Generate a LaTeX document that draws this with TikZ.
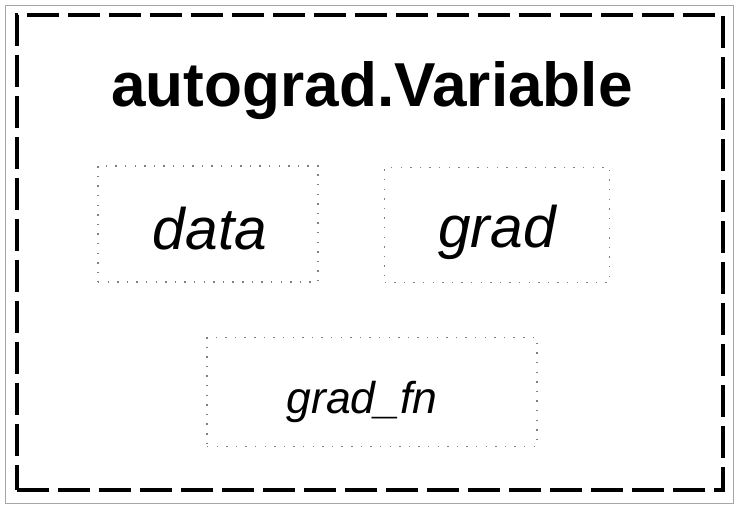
\documentclass[tikz,border=0pt]{standalone}
\usepackage{fontspec}
\setmainfont{Liberation Sans}
\begin{document}
\begin{tikzpicture}[
    x=0.03cm,
    y=-0.03cm,
    outerbox/.style={
      draw=black,
      line width=3pt,
      dash pattern=on 27pt off 8pt,
      minimum width=21.18cm,
      minimum height=14.25cm
    },
    field/.style={
      draw=black!50,
      line width=1.5pt,
      dash pattern=on 1.2pt off 7pt,
      inner sep=0pt
    },
    label/.style={
      font=\fontsize{50}{56}\selectfont\itshape
    }
  ]

    % page size and faint scan frame
    \useasboundingbox (0,0) rectangle (736,508);
    \draw[black!35, line width=0.6pt] (5,5) rectangle (733,503);

    % outer variable box
    \node[outerbox] (variable) at (370,252.5) {};
    \node[font=\fontsize{53}{60}\selectfont\bfseries] (title) at (372,91) {autograd.Variable};

    % data and grad fields
    \node[field, minimum width=6.6cm, minimum height=3.5cm] (data) at (208,224) {};
    \node[label] (datalabel) at (210,229) {data};

    \node[field, minimum width=6.75cm, minimum height=3.45cm] (grad) at (497,225) {};
    \node[label] (gradlabel) at (497,232) {grad};

    % grad_fn field
    \node[field, minimum width=9.9cm, minimum height=3.27cm] (gradfn) at (372,392) {};
    \node[font=\fontsize{38}{44}\selectfont\itshape] (gradfnlabel) at (362,402) {grad\_fn};

  \end{tikzpicture}
\end{document}
